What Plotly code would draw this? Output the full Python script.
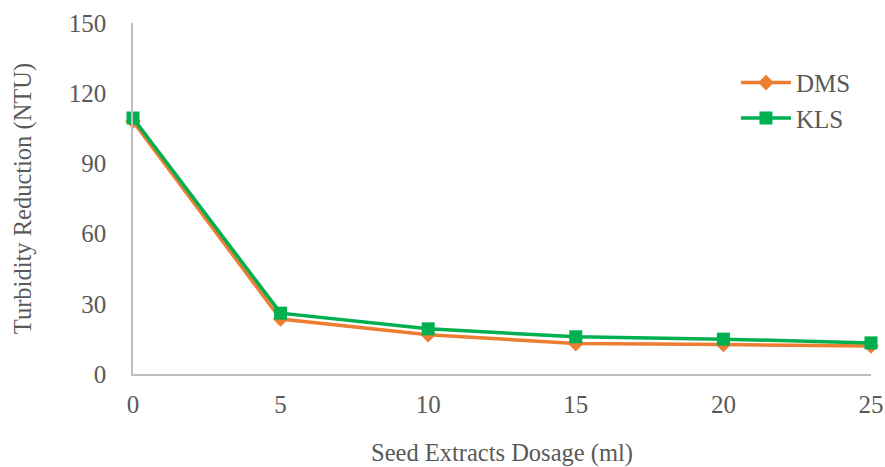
import plotly.graph_objects as go

# Dosage (ml) and turbidity reduction (NTU)
dosage = [0, 5, 10, 15, 20, 25]
dms = [108, 23.5, 16.8, 13.0, 12.6, 12.0]
kls = [109.4, 26.0, 19.3, 15.9, 14.9, 13.3]

fig = go.Figure()

fig.add_trace(go.Scatter(
    x=dosage, y=dms, name="DMS", mode="lines+markers", legendgroup="a",
    line=dict(color="#ED7D31", width=3.5),
    marker=dict(symbol="diamond", size=12, color="#ED7D31"),
    cliponaxis=False,
))

fig.add_trace(go.Scatter(
    x=dosage, y=kls, name="KLS", mode="lines+markers", legendgroup="b",
    line=dict(color="#00B050", width=3.5),
    marker=dict(symbol="square", size=13, color="#00B050"),
    cliponaxis=False,
))

fig.update_layout(
    width=885, height=467,
    margin=dict(l=133, r=14, t=23, b=93),
    plot_bgcolor="white", paper_bgcolor="white",
    font=dict(family="Liberation Serif", size=25, color="#595959"),
    legend=dict(x=0.817, y=0.895, xanchor="left", yanchor="top",
                font=dict(size=25), bgcolor="rgba(0,0,0,0)",
                tracegroupgap=0, itemwidth=50),
    showlegend=True,
)

fig.update_xaxes(
    range=[0, 25], tickvals=dosage, showgrid=False, zeroline=False,
    showline=True, linecolor="#BFBFBF", linewidth=1.5,
    ticks="", ticklabelstandoff=7, automargin=False,
    title=dict(text="Seed Extracts Dosage (ml)", standoff=30,
               font=dict(size=24.5)),
)

fig.update_yaxes(
    range=[0, 150], tickvals=[0, 30, 60, 90, 120, 150], showgrid=False,
    zeroline=False, showline=True, linecolor="#BFBFBF", linewidth=1.5,
    ticks="", ticklabelstandoff=20, automargin=False,
    title=dict(text="Turbidity Reduction (NTU)", standoff=30,
               font=dict(size=24.5)),
)

fig.write_html("out.html", config={"displayModeBar": False},
               post_script="document.body.style.margin='0';")
